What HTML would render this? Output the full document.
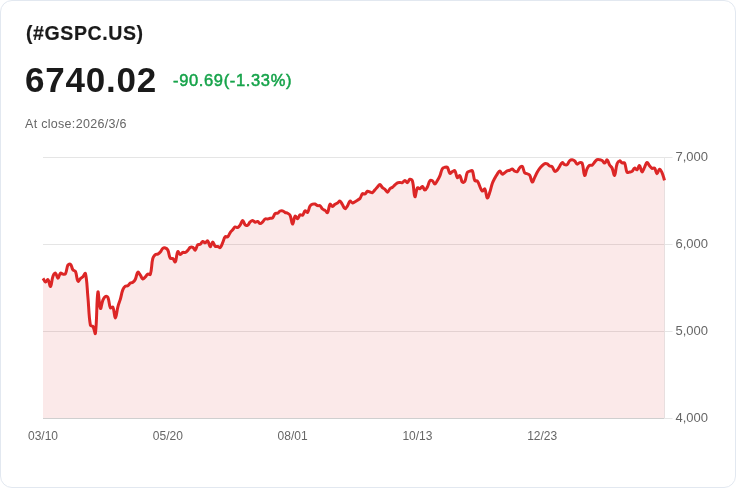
<!DOCTYPE html>
<html lang="en">
<head>
<meta charset="utf-8">
<title>(#GSPC.US)</title>
<style>
html,body{margin:0;padding:0;background:#fff;}
body{width:736px;height:488px;overflow:hidden;font-family:"Liberation Sans",sans-serif;}
.card{position:absolute;left:0;top:0;width:736px;height:488px;background:#fff;overflow:hidden;}
.frame{position:absolute;left:0;top:0;width:736px;height:488px;box-sizing:border-box;border:1px solid #e2e8f0;border-radius:12px;pointer-events:none;}
.t{position:absolute;white-space:nowrap;line-height:1;margin:0;}
.sym{left:26px;top:24px;font-size:19.5px;font-weight:700;color:#1a1a1a;letter-spacing:0.6px;-webkit-text-stroke:0.2px #1a1a1a;}
.price{left:25px;top:62px;font-size:35px;font-weight:700;color:#1a1a1a;letter-spacing:0.8px;-webkit-text-stroke:0px #1a1a1a;}
.chg{left:173px;top:72px;font-size:16.5px;font-weight:400;color:#16a34a;letter-spacing:0.65px;-webkit-text-stroke:0.5px #16a34a;}
.close{left:25px;top:118px;font-size:12.5px;color:#666666;letter-spacing:0.3px;}
svg{position:absolute;left:0;top:0;}
.ax{font-family:"Liberation Sans",sans-serif;font-size:12px;fill:#666666;}
.ay{font-size:13px;}
</style>
</head>
<body>
<div class="card">
<div class="t sym">(#GSPC.US)</div>
<div class="t price">6740.02</div>
<div class="t chg">-90.69(-1.33%)</div>
<div class="t close">At close:2026/3/6</div>
<svg width="736" height="488" viewBox="0 0 736 488">
<g><line x1="43" y1="157.5" x2="664.5" y2="157.5" stroke="#e5e5e5" stroke-width="1"/><line x1="43" y1="244.5" x2="664.5" y2="244.5" stroke="#e5e5e5" stroke-width="1"/><line x1="43" y1="331.5" x2="664.5" y2="331.5" stroke="#e5e5e5" stroke-width="1"/><line x1="43" y1="418.5" x2="664.5" y2="418.5" stroke="#cfcfcf" stroke-width="1"/><line x1="664.5" y1="157" x2="664.5" y2="419" stroke="#e9e9e9" stroke-width="1"/><line x1="664.5" y1="157.5" x2="672.5" y2="157.5" stroke="#e5e5e5" stroke-width="1"/><line x1="664.5" y1="244.5" x2="672.5" y2="244.5" stroke="#e5e5e5" stroke-width="1"/><line x1="664.5" y1="331.5" x2="672.5" y2="331.5" stroke="#e5e5e5" stroke-width="1"/><line x1="664.5" y1="418.5" x2="672.5" y2="418.5" stroke="#e5e5e5" stroke-width="1"/></g>
<path d="M43.00 278.33C44.00 279.81 44.37 281.73 45.50 282.03C46.37 282.26 47.35 279.09 47.99 279.66C49.34 280.85 49.68 286.99 50.49 286.43C51.67 285.61 51.54 280.08 52.98 276.21C53.54 274.73 54.66 272.72 55.48 273.06C56.66 273.56 56.98 278.33 57.98 278.32C58.98 278.32 59.11 274.19 60.47 273.05C61.11 272.52 61.93 273.99 62.97 274.13C63.93 274.26 65.03 274.52 65.46 273.72C67.02 270.87 66.41 267.97 67.96 265.02C68.41 264.17 69.86 263.66 70.46 264.23C71.86 265.58 71.61 267.89 72.95 269.84C73.61 270.79 74.99 270.44 75.45 271.48C76.99 275.01 76.48 279.18 77.94 281.26C78.48 282.01 79.36 279.55 80.44 278.57C81.35 277.74 82.08 277.61 82.94 276.72C84.08 275.55 85.14 272.22 85.43 273.43C87.14 280.45 87.01 287.74 87.93 297.30C89.01 308.52 88.60 314.74 90.42 325.36C90.60 326.37 92.38 325.53 92.92 326.38C94.38 328.71 95.11 335.37 95.42 333.30C97.11 321.64 96.49 299.13 97.91 292.05C98.48 289.20 99.09 306.34 100.41 308.48C101.09 309.59 101.59 303.35 102.90 300.19C103.58 298.55 104.14 297.21 105.40 296.48C106.14 296.05 107.51 296.41 107.90 297.29C109.50 300.94 108.78 304.61 110.39 307.81C110.77 308.58 112.51 306.44 112.89 307.21C114.51 310.53 114.40 318.12 115.38 318.04C116.40 317.95 116.70 311.23 117.88 306.76C118.70 303.65 119.47 302.19 120.38 299.10C121.47 295.34 121.49 293.23 122.87 289.63C123.48 288.04 124.11 287.07 125.37 286.11C126.10 285.54 127.06 286.30 127.86 285.80C129.06 285.06 129.18 283.84 130.36 283.01C131.18 282.43 132.06 282.89 132.86 282.29C134.06 281.38 134.67 280.64 135.35 279.24C136.67 276.54 136.54 273.11 137.85 272.06C138.54 271.50 139.40 273.91 140.34 275.22C141.40 276.69 141.68 278.61 142.84 279.00C143.68 279.28 144.41 277.80 145.34 276.88C146.41 275.82 146.63 274.64 147.83 274.04C148.63 273.64 150.06 275.23 150.33 274.39C152.06 268.96 151.26 264.54 152.82 258.36C153.25 256.66 154.05 255.74 155.32 254.67C156.05 254.06 156.94 254.61 157.82 254.15C158.94 253.55 159.46 253.01 160.31 252.03C161.45 250.72 161.54 249.45 162.81 248.42C163.54 247.83 164.42 247.69 165.30 247.97C166.42 248.31 167.26 248.87 167.80 249.98C169.26 253.01 168.74 255.66 170.30 258.32C170.74 259.08 172.05 258.00 172.79 258.55C174.04 259.46 174.72 262.74 175.29 261.95C176.72 259.97 176.31 253.82 177.78 251.63C178.31 250.84 179.20 254.32 180.28 254.50C181.20 254.65 181.65 252.90 182.78 252.44C183.65 252.09 184.41 252.84 185.27 252.48C186.40 252.01 186.86 251.30 187.77 250.37C188.85 249.26 189.05 248.12 190.26 247.38C191.04 246.90 191.96 246.90 192.76 247.34C193.95 247.99 194.48 250.48 195.26 250.08C196.48 249.45 196.36 246.39 197.75 244.77C198.35 244.07 199.45 244.82 200.25 244.29C201.44 243.49 201.61 241.75 202.74 241.42C203.60 241.18 204.29 242.97 205.24 242.87C206.29 242.75 207.07 240.34 207.73 240.86C209.07 241.92 209.15 246.58 210.23 246.80C211.15 247.00 211.69 242.02 212.73 241.92C213.68 241.82 213.89 245.09 215.22 246.30C215.88 246.91 216.77 246.22 217.72 246.46C218.76 246.74 219.56 248.11 220.21 247.60C221.55 246.56 221.78 244.63 222.71 242.61C223.77 240.31 223.77 238.45 225.21 236.78C225.77 236.12 227.03 237.35 227.70 236.78C229.03 235.65 229.06 234.13 230.20 232.53C231.06 231.32 231.69 230.86 232.69 229.74C233.69 228.63 234.01 227.48 235.19 226.97C236.00 226.62 236.85 227.90 237.69 227.57C238.85 227.12 239.37 226.17 240.18 225.01C241.36 223.34 241.66 220.54 242.68 220.50C243.66 220.45 243.85 223.55 245.17 224.79C245.85 225.42 246.91 225.62 247.67 225.18C248.91 224.46 249.00 223.02 250.17 221.90C250.99 221.11 251.69 220.34 252.66 220.40C253.69 220.46 254.08 221.98 255.16 222.20C256.08 222.39 256.77 221.19 257.65 221.44C258.77 221.75 259.11 223.50 260.15 223.59C261.11 223.67 261.77 222.68 262.65 221.86C263.76 220.82 263.93 219.63 265.14 218.93C265.93 218.48 266.66 219.12 267.64 218.98C268.66 218.83 269.12 218.44 270.13 218.21C271.12 217.99 271.96 218.49 272.63 217.86C273.95 216.63 273.80 214.81 275.13 213.57C275.80 212.94 276.76 213.64 277.62 213.19C278.76 212.60 278.98 211.51 280.12 210.99C280.97 210.59 281.71 210.61 282.61 210.89C283.70 211.23 284.04 212.03 285.11 212.54C286.04 212.97 286.72 212.74 287.61 213.23C288.71 213.84 289.58 214.14 290.10 215.27C291.58 218.49 291.56 223.92 292.60 224.09C293.55 224.25 293.70 217.58 295.09 216.10C295.70 215.45 296.72 219.00 297.59 218.77C298.71 218.47 298.79 215.70 300.09 214.78C300.79 214.28 301.91 215.74 302.58 215.22C303.91 214.20 303.81 211.66 305.08 210.92C305.81 210.49 306.98 212.89 307.57 212.31C308.98 210.93 308.70 208.25 310.07 206.02C310.70 205.00 311.46 204.65 312.57 204.21C313.46 203.85 314.15 203.77 315.06 204.04C316.15 204.35 316.47 205.30 317.56 205.67C318.47 205.97 319.30 205.22 320.05 205.72C321.30 206.56 321.37 207.91 322.55 209.01C323.36 209.77 324.13 209.71 325.05 210.37C326.13 211.14 326.99 213.28 327.54 212.60C328.99 210.80 328.61 205.90 330.04 204.18C330.60 203.50 331.53 206.56 332.53 206.58C333.52 206.60 333.94 205.06 335.03 204.26C335.94 203.60 336.57 203.52 337.53 202.92C338.56 202.27 339.20 200.84 340.02 201.14C341.20 201.57 341.54 203.29 342.52 204.76C343.54 206.30 343.92 208.42 345.01 208.65C345.91 208.84 346.68 207.06 347.51 205.80C348.68 204.04 348.74 201.85 350.01 201.12C350.74 200.69 351.45 202.78 352.50 202.91C353.45 203.02 354.03 202.25 355.00 201.72C356.02 201.17 356.51 200.83 357.49 200.20C358.51 199.55 359.28 199.44 359.99 198.51C361.27 196.84 361.12 194.93 362.49 193.69C363.12 193.12 364.17 194.36 364.98 193.97C366.17 193.39 366.31 191.73 367.48 191.27C368.31 190.95 368.97 191.75 369.97 192.01C370.96 192.27 371.66 192.93 372.47 192.57C373.65 192.05 373.97 190.93 374.97 189.82C375.97 188.70 376.44 188.10 377.46 187.00C378.43 185.95 379.02 184.32 379.96 184.44C381.02 184.58 381.30 186.53 382.45 187.65C383.30 188.47 384.07 188.50 384.95 189.30C386.07 190.32 386.50 192.28 387.45 192.19C388.49 192.08 388.76 189.96 389.94 188.80C390.76 187.99 391.52 187.99 392.44 187.27C393.52 186.43 393.90 185.81 394.93 184.90C395.89 184.07 396.32 183.45 397.43 182.93C398.31 182.51 398.92 182.64 399.93 182.56C400.92 182.49 401.56 182.90 402.42 182.53C403.56 182.03 403.93 180.37 404.92 180.40C405.93 180.42 406.53 182.84 407.41 182.63C408.53 182.37 408.74 179.65 409.91 179.23C410.74 178.93 412.09 179.75 412.41 180.85C414.09 186.75 413.63 194.95 414.90 196.73C415.63 197.75 415.85 190.32 417.40 187.84C417.84 187.13 419.02 188.99 419.89 188.75C421.02 188.43 421.52 186.19 422.39 186.42C423.52 186.72 423.83 189.94 424.89 190.07C425.83 190.19 426.64 188.40 427.38 187.03C428.64 184.71 428.42 182.65 429.88 180.84C430.42 180.17 431.61 180.35 432.37 180.82C433.60 181.59 433.90 184.00 434.87 183.95C435.89 183.90 436.48 181.98 437.37 180.56C438.47 178.77 439.05 177.86 439.86 175.92C441.05 173.10 440.90 171.18 442.36 168.66C442.90 167.73 443.79 167.58 444.85 167.29C445.79 167.04 446.79 166.65 447.35 167.32C448.79 169.04 448.47 172.05 449.85 173.26C450.47 173.81 451.30 172.24 452.34 171.70C453.30 171.21 454.31 170.04 454.84 170.68C456.30 172.43 455.95 176.33 457.33 177.68C457.95 178.27 459.19 174.96 459.83 175.52C461.19 176.74 460.87 180.42 462.33 182.13C462.86 182.76 464.39 182.24 464.82 181.39C466.38 178.34 465.78 175.54 467.32 172.38C467.78 171.44 468.77 171.48 469.81 171.14C470.76 170.84 471.91 170.02 472.31 170.77C473.91 173.81 473.20 177.38 474.81 180.64C475.20 181.44 476.71 180.26 477.30 180.93C478.70 182.52 478.75 184.18 479.80 186.30C480.75 188.24 481.05 190.44 482.29 191.09C483.05 191.49 484.27 188.22 484.79 188.93C486.26 190.95 486.08 197.10 487.29 197.93C488.08 198.47 488.98 194.65 489.78 192.34C490.98 188.86 491.05 186.92 492.28 183.45C493.05 181.26 493.67 180.23 494.77 178.17C495.67 176.49 496.19 175.67 497.27 174.10C498.18 172.78 498.77 170.93 499.77 170.93C500.76 170.93 501.10 173.70 502.26 174.10C503.09 174.39 503.79 173.27 504.76 172.64C505.78 171.98 506.17 171.40 507.25 170.87C508.17 170.43 508.78 170.58 509.75 170.23C510.78 169.86 511.33 168.91 512.24 169.08C513.33 169.28 513.62 170.57 514.74 171.15C515.62 171.61 516.54 172.17 517.24 171.68C518.53 170.77 518.48 168.98 519.73 167.66C520.47 166.88 521.65 165.82 522.23 166.41C523.65 167.88 523.29 170.70 524.72 172.82C525.28 173.64 526.26 173.31 527.22 173.76C528.26 174.25 529.15 174.24 529.72 175.18C531.15 177.55 531.05 181.52 532.21 182.04C533.05 182.41 533.76 179.27 534.71 177.40C535.75 175.34 536.09 174.21 537.20 172.20C538.09 170.60 538.60 169.82 539.70 168.37C540.59 167.20 541.12 166.65 542.20 165.65C543.12 164.79 543.58 164.10 544.69 163.71C545.58 163.40 546.32 163.50 547.19 163.90C548.32 164.41 548.58 165.35 549.68 166.00C550.58 166.52 551.50 166.11 552.18 166.83C553.50 168.21 553.38 170.39 554.68 171.24C555.38 171.70 556.42 170.85 557.17 170.11C558.42 168.89 558.66 167.83 559.67 166.32C560.66 164.83 561.01 162.98 562.16 162.60C563.00 162.32 563.53 164.22 564.66 164.68C565.53 165.03 566.46 165.19 567.16 164.63C568.45 163.61 568.39 161.96 569.65 160.73C570.38 160.02 571.17 159.73 572.15 159.78C573.16 159.82 573.84 160.24 574.64 160.95C575.84 162.01 575.98 163.80 577.14 164.19C577.98 164.47 578.56 162.88 579.64 162.63C580.56 162.42 581.80 162.17 582.13 163.02C583.80 167.30 583.36 174.05 584.63 175.47C585.36 176.29 585.85 171.21 587.12 168.62C587.85 167.16 588.38 166.20 589.62 165.34C590.37 164.81 591.34 165.64 592.12 165.14C593.33 164.36 593.56 163.29 594.61 162.13C595.56 161.09 595.94 160.23 597.11 159.66C597.94 159.26 598.63 159.55 599.60 159.71C600.63 159.88 601.26 159.93 602.10 160.50C603.26 161.28 603.66 163.23 604.60 163.10C605.66 162.97 606.25 159.54 607.09 159.85C608.25 160.28 608.41 163.03 609.59 164.95C610.41 166.29 611.41 166.60 612.08 168.00C613.41 170.76 613.79 176.02 614.58 175.34C615.79 174.29 615.56 168.09 617.08 163.69C617.56 162.30 618.49 161.04 619.57 160.86C620.49 160.71 620.95 162.41 622.07 162.86C622.94 163.22 624.16 162.12 624.56 162.89C626.16 165.92 625.47 169.43 627.06 172.35C627.47 173.10 628.57 172.23 629.56 172.05C630.57 171.87 631.29 172.04 632.05 171.44C633.29 170.47 633.39 168.50 634.55 168.13C635.39 167.85 636.28 170.19 637.04 169.82C638.27 169.21 638.70 165.32 639.54 165.67C640.70 166.16 640.91 171.53 642.04 171.92C642.91 172.21 643.56 169.20 644.53 167.36C645.56 165.43 645.89 162.86 647.03 162.49C647.88 162.21 648.46 164.49 649.52 165.73C650.46 166.83 650.84 167.78 652.02 168.34C652.84 168.73 653.94 167.47 654.52 168.10C655.94 169.64 655.93 173.52 657.01 173.75C657.93 173.95 658.40 169.43 659.51 169.15C660.40 168.94 661.33 171.01 662.00 172.53C663.33 175.52 663.50 177.26 664.50 180.42L664.50 418.00 L43.00 418.00 Z" fill="#dc2626" fill-opacity="0.1" stroke="none"/>
<path d="M43.00 278.33C44.00 279.81 44.37 281.73 45.50 282.03C46.37 282.26 47.35 279.09 47.99 279.66C49.34 280.85 49.68 286.99 50.49 286.43C51.67 285.61 51.54 280.08 52.98 276.21C53.54 274.73 54.66 272.72 55.48 273.06C56.66 273.56 56.98 278.33 57.98 278.32C58.98 278.32 59.11 274.19 60.47 273.05C61.11 272.52 61.93 273.99 62.97 274.13C63.93 274.26 65.03 274.52 65.46 273.72C67.02 270.87 66.41 267.97 67.96 265.02C68.41 264.17 69.86 263.66 70.46 264.23C71.86 265.58 71.61 267.89 72.95 269.84C73.61 270.79 74.99 270.44 75.45 271.48C76.99 275.01 76.48 279.18 77.94 281.26C78.48 282.01 79.36 279.55 80.44 278.57C81.35 277.74 82.08 277.61 82.94 276.72C84.08 275.55 85.14 272.22 85.43 273.43C87.14 280.45 87.01 287.74 87.93 297.30C89.01 308.52 88.60 314.74 90.42 325.36C90.60 326.37 92.38 325.53 92.92 326.38C94.38 328.71 95.11 335.37 95.42 333.30C97.11 321.64 96.49 299.13 97.91 292.05C98.48 289.20 99.09 306.34 100.41 308.48C101.09 309.59 101.59 303.35 102.90 300.19C103.58 298.55 104.14 297.21 105.40 296.48C106.14 296.05 107.51 296.41 107.90 297.29C109.50 300.94 108.78 304.61 110.39 307.81C110.77 308.58 112.51 306.44 112.89 307.21C114.51 310.53 114.40 318.12 115.38 318.04C116.40 317.95 116.70 311.23 117.88 306.76C118.70 303.65 119.47 302.19 120.38 299.10C121.47 295.34 121.49 293.23 122.87 289.63C123.48 288.04 124.11 287.07 125.37 286.11C126.10 285.54 127.06 286.30 127.86 285.80C129.06 285.06 129.18 283.84 130.36 283.01C131.18 282.43 132.06 282.89 132.86 282.29C134.06 281.38 134.67 280.64 135.35 279.24C136.67 276.54 136.54 273.11 137.85 272.06C138.54 271.50 139.40 273.91 140.34 275.22C141.40 276.69 141.68 278.61 142.84 279.00C143.68 279.28 144.41 277.80 145.34 276.88C146.41 275.82 146.63 274.64 147.83 274.04C148.63 273.64 150.06 275.23 150.33 274.39C152.06 268.96 151.26 264.54 152.82 258.36C153.25 256.66 154.05 255.74 155.32 254.67C156.05 254.06 156.94 254.61 157.82 254.15C158.94 253.55 159.46 253.01 160.31 252.03C161.45 250.72 161.54 249.45 162.81 248.42C163.54 247.83 164.42 247.69 165.30 247.97C166.42 248.31 167.26 248.87 167.80 249.98C169.26 253.01 168.74 255.66 170.30 258.32C170.74 259.08 172.05 258.00 172.79 258.55C174.04 259.46 174.72 262.74 175.29 261.95C176.72 259.97 176.31 253.82 177.78 251.63C178.31 250.84 179.20 254.32 180.28 254.50C181.20 254.65 181.65 252.90 182.78 252.44C183.65 252.09 184.41 252.84 185.27 252.48C186.40 252.01 186.86 251.30 187.77 250.37C188.85 249.26 189.05 248.12 190.26 247.38C191.04 246.90 191.96 246.90 192.76 247.34C193.95 247.99 194.48 250.48 195.26 250.08C196.48 249.45 196.36 246.39 197.75 244.77C198.35 244.07 199.45 244.82 200.25 244.29C201.44 243.49 201.61 241.75 202.74 241.42C203.60 241.18 204.29 242.97 205.24 242.87C206.29 242.75 207.07 240.34 207.73 240.86C209.07 241.92 209.15 246.58 210.23 246.80C211.15 247.00 211.69 242.02 212.73 241.92C213.68 241.82 213.89 245.09 215.22 246.30C215.88 246.91 216.77 246.22 217.72 246.46C218.76 246.74 219.56 248.11 220.21 247.60C221.55 246.56 221.78 244.63 222.71 242.61C223.77 240.31 223.77 238.45 225.21 236.78C225.77 236.12 227.03 237.35 227.70 236.78C229.03 235.65 229.06 234.13 230.20 232.53C231.06 231.32 231.69 230.86 232.69 229.74C233.69 228.63 234.01 227.48 235.19 226.97C236.00 226.62 236.85 227.90 237.69 227.57C238.85 227.12 239.37 226.17 240.18 225.01C241.36 223.34 241.66 220.54 242.68 220.50C243.66 220.45 243.85 223.55 245.17 224.79C245.85 225.42 246.91 225.62 247.67 225.18C248.91 224.46 249.00 223.02 250.17 221.90C250.99 221.11 251.69 220.34 252.66 220.40C253.69 220.46 254.08 221.98 255.16 222.20C256.08 222.39 256.77 221.19 257.65 221.44C258.77 221.75 259.11 223.50 260.15 223.59C261.11 223.67 261.77 222.68 262.65 221.86C263.76 220.82 263.93 219.63 265.14 218.93C265.93 218.48 266.66 219.12 267.64 218.98C268.66 218.83 269.12 218.44 270.13 218.21C271.12 217.99 271.96 218.49 272.63 217.86C273.95 216.63 273.80 214.81 275.13 213.57C275.80 212.94 276.76 213.64 277.62 213.19C278.76 212.60 278.98 211.51 280.12 210.99C280.97 210.59 281.71 210.61 282.61 210.89C283.70 211.23 284.04 212.03 285.11 212.54C286.04 212.97 286.72 212.74 287.61 213.23C288.71 213.84 289.58 214.14 290.10 215.27C291.58 218.49 291.56 223.92 292.60 224.09C293.55 224.25 293.70 217.58 295.09 216.10C295.70 215.45 296.72 219.00 297.59 218.77C298.71 218.47 298.79 215.70 300.09 214.78C300.79 214.28 301.91 215.74 302.58 215.22C303.91 214.20 303.81 211.66 305.08 210.92C305.81 210.49 306.98 212.89 307.57 212.31C308.98 210.93 308.70 208.25 310.07 206.02C310.70 205.00 311.46 204.65 312.57 204.21C313.46 203.85 314.15 203.77 315.06 204.04C316.15 204.35 316.47 205.30 317.56 205.67C318.47 205.97 319.30 205.22 320.05 205.72C321.30 206.56 321.37 207.91 322.55 209.01C323.36 209.77 324.13 209.71 325.05 210.37C326.13 211.14 326.99 213.28 327.54 212.60C328.99 210.80 328.61 205.90 330.04 204.18C330.60 203.50 331.53 206.56 332.53 206.58C333.52 206.60 333.94 205.06 335.03 204.26C335.94 203.60 336.57 203.52 337.53 202.92C338.56 202.27 339.20 200.84 340.02 201.14C341.20 201.57 341.54 203.29 342.52 204.76C343.54 206.30 343.92 208.42 345.01 208.65C345.91 208.84 346.68 207.06 347.51 205.80C348.68 204.04 348.74 201.85 350.01 201.12C350.74 200.69 351.45 202.78 352.50 202.91C353.45 203.02 354.03 202.25 355.00 201.72C356.02 201.17 356.51 200.83 357.49 200.20C358.51 199.55 359.28 199.44 359.99 198.51C361.27 196.84 361.12 194.93 362.49 193.69C363.12 193.12 364.17 194.36 364.98 193.97C366.17 193.39 366.31 191.73 367.48 191.27C368.31 190.95 368.97 191.75 369.97 192.01C370.96 192.27 371.66 192.93 372.47 192.57C373.65 192.05 373.97 190.93 374.97 189.82C375.97 188.70 376.44 188.10 377.46 187.00C378.43 185.95 379.02 184.32 379.96 184.44C381.02 184.58 381.30 186.53 382.45 187.65C383.30 188.47 384.07 188.50 384.95 189.30C386.07 190.32 386.50 192.28 387.45 192.19C388.49 192.08 388.76 189.96 389.94 188.80C390.76 187.99 391.52 187.99 392.44 187.27C393.52 186.43 393.90 185.81 394.93 184.90C395.89 184.07 396.32 183.45 397.43 182.93C398.31 182.51 398.92 182.64 399.93 182.56C400.92 182.49 401.56 182.90 402.42 182.53C403.56 182.03 403.93 180.37 404.92 180.40C405.93 180.42 406.53 182.84 407.41 182.63C408.53 182.37 408.74 179.65 409.91 179.23C410.74 178.93 412.09 179.75 412.41 180.85C414.09 186.75 413.63 194.95 414.90 196.73C415.63 197.75 415.85 190.32 417.40 187.84C417.84 187.13 419.02 188.99 419.89 188.75C421.02 188.43 421.52 186.19 422.39 186.42C423.52 186.72 423.83 189.94 424.89 190.07C425.83 190.19 426.64 188.40 427.38 187.03C428.64 184.71 428.42 182.65 429.88 180.84C430.42 180.17 431.61 180.35 432.37 180.82C433.60 181.59 433.90 184.00 434.87 183.95C435.89 183.90 436.48 181.98 437.37 180.56C438.47 178.77 439.05 177.86 439.86 175.92C441.05 173.10 440.90 171.18 442.36 168.66C442.90 167.73 443.79 167.58 444.85 167.29C445.79 167.04 446.79 166.65 447.35 167.32C448.79 169.04 448.47 172.05 449.85 173.26C450.47 173.81 451.30 172.24 452.34 171.70C453.30 171.21 454.31 170.04 454.84 170.68C456.30 172.43 455.95 176.33 457.33 177.68C457.95 178.27 459.19 174.96 459.83 175.52C461.19 176.74 460.87 180.42 462.33 182.13C462.86 182.76 464.39 182.24 464.82 181.39C466.38 178.34 465.78 175.54 467.32 172.38C467.78 171.44 468.77 171.48 469.81 171.14C470.76 170.84 471.91 170.02 472.31 170.77C473.91 173.81 473.20 177.38 474.81 180.64C475.20 181.44 476.71 180.26 477.30 180.93C478.70 182.52 478.75 184.18 479.80 186.30C480.75 188.24 481.05 190.44 482.29 191.09C483.05 191.49 484.27 188.22 484.79 188.93C486.26 190.95 486.08 197.10 487.29 197.93C488.08 198.47 488.98 194.65 489.78 192.34C490.98 188.86 491.05 186.92 492.28 183.45C493.05 181.26 493.67 180.23 494.77 178.17C495.67 176.49 496.19 175.67 497.27 174.10C498.18 172.78 498.77 170.93 499.77 170.93C500.76 170.93 501.10 173.70 502.26 174.10C503.09 174.39 503.79 173.27 504.76 172.64C505.78 171.98 506.17 171.40 507.25 170.87C508.17 170.43 508.78 170.58 509.75 170.23C510.78 169.86 511.33 168.91 512.24 169.08C513.33 169.28 513.62 170.57 514.74 171.15C515.62 171.61 516.54 172.17 517.24 171.68C518.53 170.77 518.48 168.98 519.73 167.66C520.47 166.88 521.65 165.82 522.23 166.41C523.65 167.88 523.29 170.70 524.72 172.82C525.28 173.64 526.26 173.31 527.22 173.76C528.26 174.25 529.15 174.24 529.72 175.18C531.15 177.55 531.05 181.52 532.21 182.04C533.05 182.41 533.76 179.27 534.71 177.40C535.75 175.34 536.09 174.21 537.20 172.20C538.09 170.60 538.60 169.82 539.70 168.37C540.59 167.20 541.12 166.65 542.20 165.65C543.12 164.79 543.58 164.10 544.69 163.71C545.58 163.40 546.32 163.50 547.19 163.90C548.32 164.41 548.58 165.35 549.68 166.00C550.58 166.52 551.50 166.11 552.18 166.83C553.50 168.21 553.38 170.39 554.68 171.24C555.38 171.70 556.42 170.85 557.17 170.11C558.42 168.89 558.66 167.83 559.67 166.32C560.66 164.83 561.01 162.98 562.16 162.60C563.00 162.32 563.53 164.22 564.66 164.68C565.53 165.03 566.46 165.19 567.16 164.63C568.45 163.61 568.39 161.96 569.65 160.73C570.38 160.02 571.17 159.73 572.15 159.78C573.16 159.82 573.84 160.24 574.64 160.95C575.84 162.01 575.98 163.80 577.14 164.19C577.98 164.47 578.56 162.88 579.64 162.63C580.56 162.42 581.80 162.17 582.13 163.02C583.80 167.30 583.36 174.05 584.63 175.47C585.36 176.29 585.85 171.21 587.12 168.62C587.85 167.16 588.38 166.20 589.62 165.34C590.37 164.81 591.34 165.64 592.12 165.14C593.33 164.36 593.56 163.29 594.61 162.13C595.56 161.09 595.94 160.23 597.11 159.66C597.94 159.26 598.63 159.55 599.60 159.71C600.63 159.88 601.26 159.93 602.10 160.50C603.26 161.28 603.66 163.23 604.60 163.10C605.66 162.97 606.25 159.54 607.09 159.85C608.25 160.28 608.41 163.03 609.59 164.95C610.41 166.29 611.41 166.60 612.08 168.00C613.41 170.76 613.79 176.02 614.58 175.34C615.79 174.29 615.56 168.09 617.08 163.69C617.56 162.30 618.49 161.04 619.57 160.86C620.49 160.71 620.95 162.41 622.07 162.86C622.94 163.22 624.16 162.12 624.56 162.89C626.16 165.92 625.47 169.43 627.06 172.35C627.47 173.10 628.57 172.23 629.56 172.05C630.57 171.87 631.29 172.04 632.05 171.44C633.29 170.47 633.39 168.50 634.55 168.13C635.39 167.85 636.28 170.19 637.04 169.82C638.27 169.21 638.70 165.32 639.54 165.67C640.70 166.16 640.91 171.53 642.04 171.92C642.91 172.21 643.56 169.20 644.53 167.36C645.56 165.43 645.89 162.86 647.03 162.49C647.88 162.21 648.46 164.49 649.52 165.73C650.46 166.83 650.84 167.78 652.02 168.34C652.84 168.73 653.94 167.47 654.52 168.10C655.94 169.64 655.93 173.52 657.01 173.75C657.93 173.95 658.40 169.43 659.51 169.15C660.40 168.94 661.33 171.01 662.00 172.53C663.33 175.52 663.50 177.26 664.50 180.42" fill="none" stroke="#dc2626" stroke-width="3" stroke-linejoin="miter" stroke-linecap="butt"/>
<text x="675.5" y="161" class="ax ay">7,000</text><text x="675.5" y="248" class="ax ay">6,000</text><text x="675.5" y="335" class="ax ay">5,000</text><text x="675.5" y="422" class="ax ay">4,000</text><text x="43.00" y="440" class="ax" text-anchor="middle">03/10</text><text x="167.80" y="440" class="ax" text-anchor="middle">05/20</text><text x="292.60" y="440" class="ax" text-anchor="middle">08/01</text><text x="417.40" y="440" class="ax" text-anchor="middle">10/13</text><text x="542.20" y="440" class="ax" text-anchor="middle">12/23</text>
</svg>
<div class="frame"></div>
</div>
</body>
</html>
